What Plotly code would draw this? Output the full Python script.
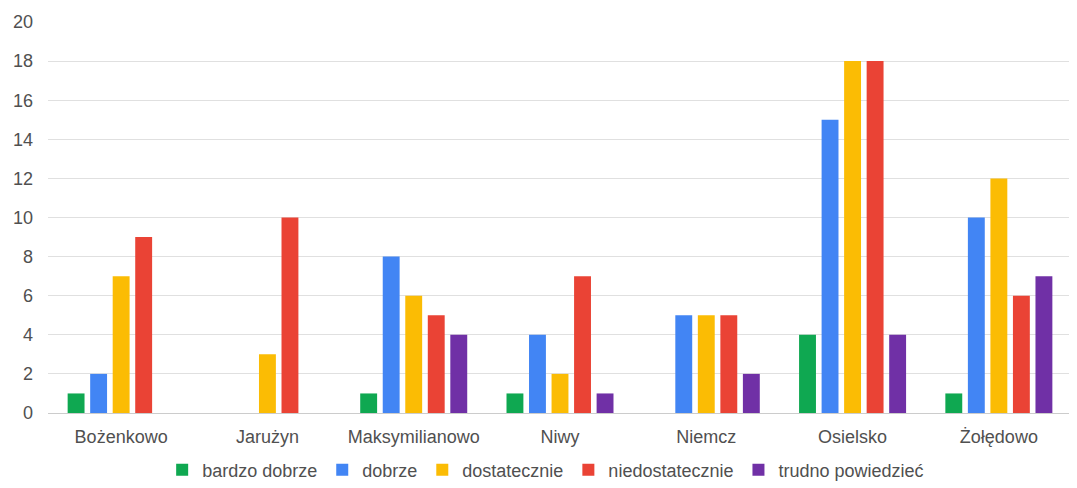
import plotly.graph_objects as go

categories = ["Bożenkowo", "Jarużyn", "Maksymilianowo", "Niwy", "Niemcz", "Osielsko", "Żołędowo"]
bardzo_dobrze = [1, 0, 1, 1, 0, 4, 1]
dobrze = [2, 0, 8, 4, 5, 15, 10]
dostatecznie = [7, 3, 6, 2, 5, 18, 12]
niedostatecznie = [9, 10, 5, 7, 5, 18, 6]
trudno_powiedziec = [0, 0, 4, 1, 2, 4, 7]

series = [
    ("bardzo dobrze", bardzo_dobrze, "#0fa851"),
    ("dobrze", dobrze, "#4285f4"),
    ("dostatecznie", dostatecznie, "#fbbc04"),
    ("niedostatecznie", niedostatecznie, "#ea4335"),
    ("trudno powiedzieć", trudno_powiedziec, "#7030a6"),
]

fig = go.Figure()
for name, vals, color in series:
    fig.add_trace(go.Bar(x=categories, y=vals, name=name, marker_color=color,
                         marker_line_width=0))

font = dict(family="Liberation Sans, Arial, sans-serif", size=18, color="#505050")
fig.update_layout(
    width=1077, height=488,
    margin=dict(l=40, r=13, t=14, b=83, autoexpand=False),
    paper_bgcolor="white", plot_bgcolor="white",
    font=font,
    barmode="group", bargap=0.23, bargroupgap=0.25,
    showlegend=True,
    legend=dict(orientation="h", x=0.486, xanchor="center", y=-0.146, yanchor="middle",
                font=dict(family="Liberation Sans, Arial, sans-serif", size=18, color="#505050"),
                itemwidth=30, tracegroupgap=0, traceorder="normal"),
    xaxis=dict(showgrid=False, ticks="", ticklabelstandoff=7, showline=True,
               linecolor="#cccccc", linewidth=1, tickfont=font, automargin=False),
    yaxis=dict(range=[0, 20], dtick=2, showgrid=True, gridcolor="#e0e0e0", gridwidth=1,
               zeroline=False, ticks="", ticklabelstandoff=14, tickfont=font,
               fixedrange=True, automargin=False),
)

fig.write_html("out.html")
